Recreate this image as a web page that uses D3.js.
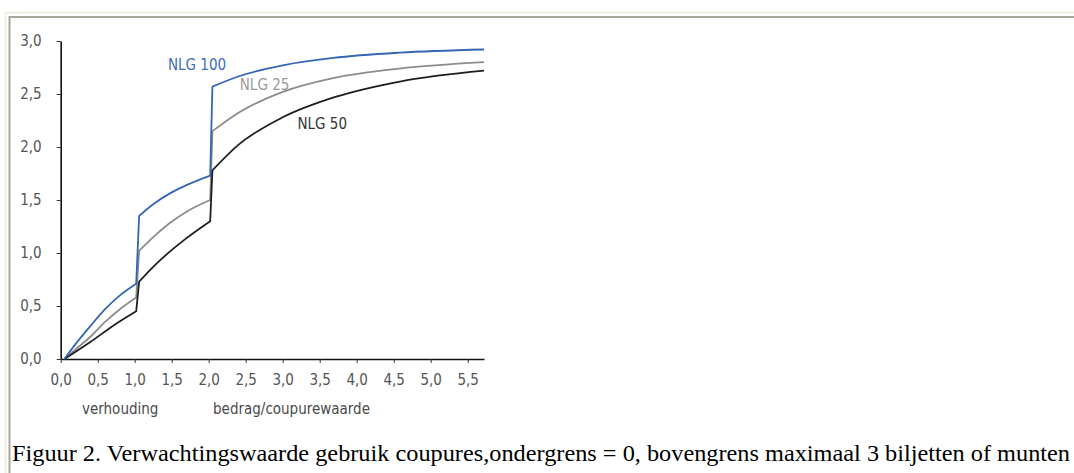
<!DOCTYPE html>
<html lang="nl">
<head>
<meta charset="UTF-8">
<title>Figuur 2</title>
<style>
    body { margin: 0; background: #fff; }
    svg { display: block; }
    .tick text, .lbl {
        font-family: "Liberation Sans Narrow", "DejaVu Sans Condensed", sans-serif;
        fill: #4a4a4a;
    }
    .caption {
        font-family: "Liberation Serif", "Times New Roman", serif;
        font-size: 23px;
        fill: #000;
    }
</style>
</head>
<body>
<div id="chart"></div>
<script src="https://d3js.org/d3.v7.min.js"></script>
<script>
// tick values and their labels (Dutch decimal comma)
const xTicks = [0, 0.5, 1, 1.5, 2, 2.5, 3, 3.5, 4, 4.5, 5, 5.5];
const xTickLabels = ["0,0", "0,5", "1,0", "1,5", "2,0", "2,5", "3,0", "3,5", "4,0", "4,5", "5,0", "5,5"];
const yTicks = [0, 0.5, 1, 1.5, 2, 2.5, 3];
const yTickLabels = ["0,0", "0,5", "1,0", "1,5", "2,0", "2,5", "3,0"];

// [verhouding, verwachtingswaarde], one list per stretch between the jumps
const nlg100 = [
    [[0.05, 0], [0.2, 0.14], [0.4, 0.31], [0.6, 0.47], [0.8, 0.6], [1.02, 0.71]],
    [[1.06, 1.35], [1.25, 1.46], [1.47, 1.56], [1.7, 1.64], [2.02, 1.73]],
    [[2.05, 2.57], [2.42, 2.67], [3.0, 2.77], [3.68, 2.84], [4.58, 2.89], [5.72, 2.92]]
];
const nlg25 = [
    [[0.05, 0], [0.2, 0.09], [0.4, 0.21], [0.6, 0.35], [0.8, 0.47], [1.02, 0.58]],
    [[1.06, 1.02], [1.25, 1.15], [1.47, 1.28], [1.7, 1.39], [2.02, 1.5]],
    [[2.05, 2.15], [2.42, 2.33], [3.0, 2.52], [3.68, 2.65], [4.58, 2.74], [5.72, 2.8]]
];
const nlg50 = [
    [[0.05, 0], [0.4, 0.16], [0.7, 0.31], [1.02, 0.45]],
    [[1.06, 0.73], [1.25, 0.87], [1.47, 1.01], [1.7, 1.14], [2.02, 1.3]],
    [[2.05, 1.78], [2.4, 2.02], [3.0, 2.28], [3.7, 2.47], [4.6, 2.62], [5.72, 2.72]]
];

const seriesNames = ["NLG 100", "NLG 25", "NLG 50"];

const W = 1074, H = 473;
const svg = d3.select("#chart").append("svg")
    .attr("width", W)
    .attr("height", H);

// frame (XP style double line, open at right and bottom)
svg.append("path").attr("d", `M5.5,${H} V12.5 H${W}`)
    .attr("fill", "none").attr("stroke", "#ecead9").attr("stroke-width", 1.5);
svg.append("path").attr("d", `M9.5,${H} V17 H${W}`)
    .attr("fill", "none").attr("stroke", "#a9a69a").attr("stroke-width", 2);

const x = d3.scaleLinear().domain([0, 5.72]).range([60.7, 484]);
const y = d3.scaleLinear().domain([0, 3]).range([359, 41]);

// axes
const xAxis = svg.append("g")
    .attr("transform", `translate(0,${y(0)})`)
    .call(d3.axisBottom(x).tickValues(xTicks).tickSize(4).tickSizeOuter(0)
        .tickPadding(11).tickFormat((d, i) => xTickLabels[i]));
const yAxis = svg.append("g")
    .attr("transform", `translate(${x(0)},0)`)
    .call(d3.axisLeft(y).tickValues(yTicks).tickSize(4).tickSizeOuter(0)
        .tickPadding(15).tickFormat((d, i) => yTickLabels[i]));

[xAxis, yAxis].forEach(a => {
    a.select(".domain").attr("stroke", "#111").attr("stroke-width", 1.6);
    a.selectAll(".tick line").attr("stroke", "#333").attr("stroke-width", 1);
    a.selectAll(".tick text").style("font-size", "15px").style("fill", "#555");
});

// smooth inside each stretch, straight jump between stretches
const seg = d3.line()
    .x(d => x(d[0]))
    .y(d => y(d[1]))
    .curve(d3.curveMonotoneX);
const pathFor = parts => parts.map((p, i) => {
    const s = seg(p);
    return i === 0 ? s : "L" + s.slice(1);
}).join("");

const curves = [
    { data: nlg25, color: "#8c8c8c" },
    { data: nlg50, color: "#1e1e1e" },
    { data: nlg100, color: "#3565b5" }
];
svg.selectAll(".curve").data(curves).enter().append("path")
    .attr("class", "curve")
    .attr("fill", "none")
    .attr("stroke", d => d.color)
    .attr("stroke-width", 1.8)
    .attr("stroke-linejoin", "round")
    .attr("d", d => pathFor(d.data));

// series labels
const labels = [
    { name: seriesNames[0], at: [1.45, 2.73], color: "#3d6dbf" },
    { name: seriesNames[1], at: [2.42, 2.54], color: "#9a9a9a" },
    { name: seriesNames[2], at: [3.2, 2.17], color: "#333" }
];
svg.selectAll(".lbl").data(labels).enter().append("text")
    .attr("class", "lbl")
    .attr("x", d => x(d.at[0]))
    .attr("y", d => y(d.at[1]))
    .style("font-size", "15px")
    .style("fill", d => d.color)
    .text(d => d.name);

// axis captions
svg.append("text").attr("class", "lbl")
    .attr("x", 82).attr("y", 414).style("font-size", "15px")
    .text("verhouding");
svg.append("text").attr("class", "lbl")
    .attr("x", 213).attr("y", 414).style("font-size", "15px")
    .text("bedrag/coupurewaarde");

svg.append("text").attr("class", "caption")
    .attr("x", 12).attr("y", 461)
    .attr("textLength", 1058)
    .attr("lengthAdjust", "spacingAndGlyphs")
    .text("Figuur 2. Verwachtingswaarde gebruik coupures,ondergrens = 0, bovengrens maximaal 3 biljetten of munten");
</script>
</body>
</html>
